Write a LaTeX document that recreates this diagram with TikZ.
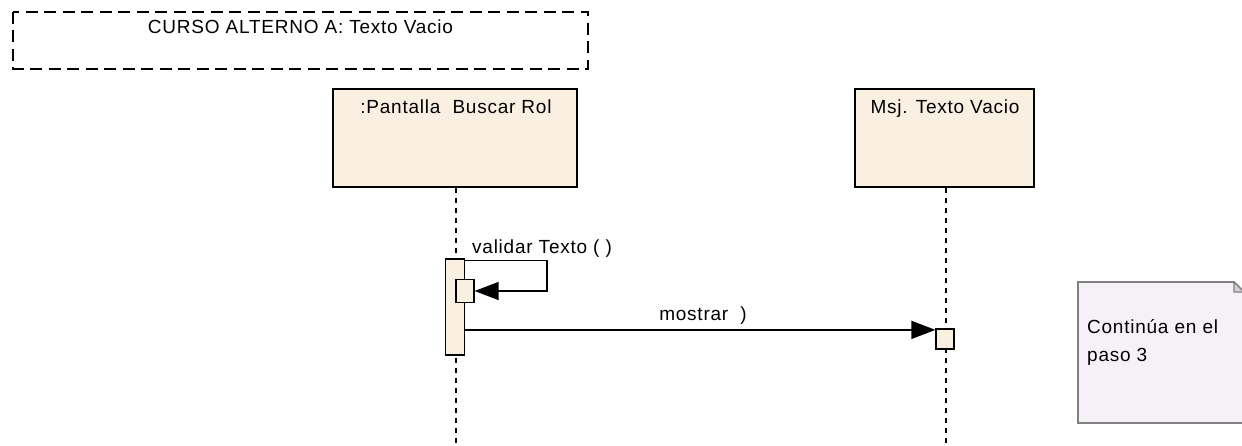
\documentclass[tikz,border=0pt]{standalone}
\usepackage{fontspec}
\setmainfont{Liberation Sans}[LetterSpace=4]
\usetikzlibrary{arrows.meta}
\definecolor{lifefill}{HTML}{FAF0E1}
\definecolor{notefill}{HTML}{F6F1F6}
\definecolor{noteline}{HTML}{808080}
\definecolor{foldfill}{HTML}{D2CED2}
\tikzset{
  txt/.style={inner sep=0pt, font=\fontsize{19}{23}\selectfont},
  lifebox/.style={draw=black, line width=1.4pt, fill=lifefill, inner sep=0pt},
  actbox/.style={draw=black, line width=1.2pt, fill=lifefill, inner sep=0pt},
  lifeline/.style={line width=1.3pt, dash pattern=on 5pt off 5pt},
  msg/.style={line width=1.4pt, -{Triangle[length=24pt,width=18pt]}},
  framebox/.style={line width=1.6pt, dash pattern=on 12pt off 6.5pt},
}
\begin{document}
\begin{tikzpicture}[x=1pt,y=-1pt]
\useasboundingbox (0,0) rectangle (1242,446);

% fragment frame
\draw[framebox] (13,12) rectangle (588,69);
\node[txt, anchor=base] (frametitle) at (300.5,34) {CURSO ALTERNO A: Texto Vacio};

% lifeline heads
\node[lifebox, minimum width=244pt, minimum height=98pt] (pantalla) at (455,138) {};
\node[txt, anchor=base] (pantallaname) at (456,114) {:Pantalla\ \ Buscar Rol};
\node[lifebox, minimum width=179pt, minimum height=98pt] (msj) at (944.5,138) {};
\node[txt, anchor=base] (msjname) at (945,114) {Msj. Texto Vacio};

% lifelines
\coordinate (pend) at (456,446);
\coordinate (mend) at (946,446);
\draw[lifeline] (pantalla.south -| pend) -- (pend);
\draw[lifeline] (msj.south -| mend) -- (mend);

% activations
\node[actbox, minimum width=19pt, minimum height=96pt] (act1) at (455,307) {};
\node[actbox, minimum width=18pt, minimum height=23pt] (act1b) at (465,291) {};
\node[actbox, minimum width=18pt, minimum height=20pt] (act2) at (945,339) {};

% self call
\draw[msg] ([yshift=-2pt]act1.north east) -- ++(82,0) |- (act1b.east);
\node[txt, anchor=base west] (selflabel) at (472,254) {validar Texto ( )};

% call to the message window
\coordinate (m2) at ([yshift=-1.5pt]act2.north west);
\draw[msg] (act1.east |- m2) -- (m2);
\node[txt, anchor=base] (msglabel) at (703,320) {mostrar\ \ )};

% note
\draw[draw=noteline, line width=1.6pt, fill=notefill]
  (1078,282) -- (1234,282) -- (1244,292) -- (1244,423) -- (1078,423) -- cycle;
\draw[draw=noteline, line width=1.2pt, fill=foldfill]
  (1234,282) -- (1234,292) -- (1244,292) -- cycle;
\node[txt, anchor=base west] (note1) at (1087,334) {Continúa en el};
\node[txt, anchor=base west] (note2) at (1087,361) {paso 3};
\end{tikzpicture}
\end{document}
